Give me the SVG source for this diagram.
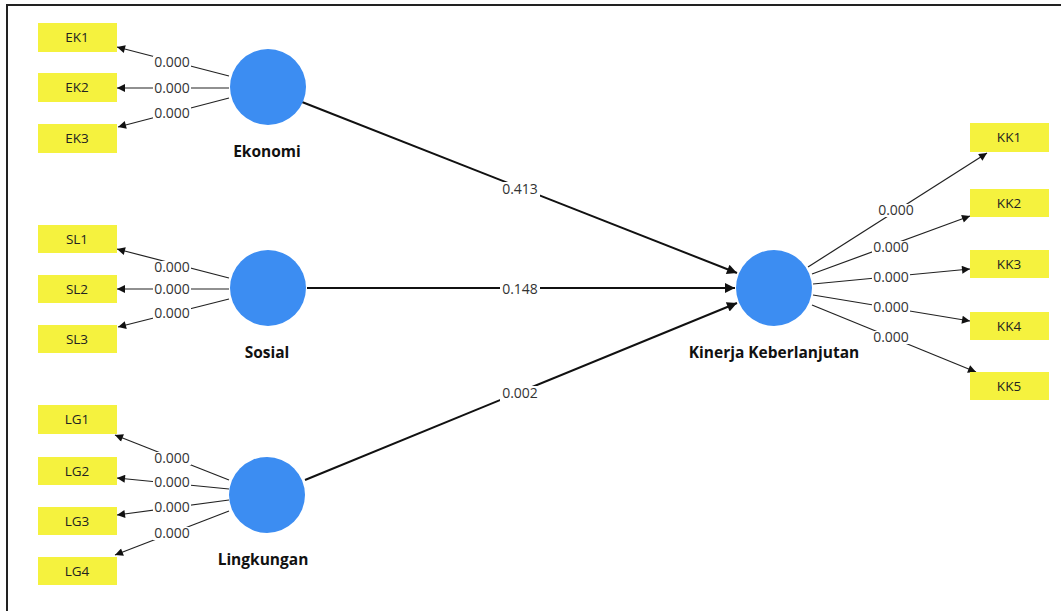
<svg xmlns="http://www.w3.org/2000/svg" width="1061" height="611" viewBox="0 0 1061 611">
<style>
.ind rect{fill:#F5F23E;}
.ind text{font-family:"Open Sans","Noto Sans",sans-serif;font-size:13.5px;fill:#222;text-anchor:middle;}
.lat circle{fill:#3C8DF2;}
.lat text{font-family:"Open Sans","Noto Sans",sans-serif;font-size:15.5px;font-weight:bold;fill:#111;text-anchor:middle;}
.ld{stroke:#222;stroke-width:1.2;fill:none;marker-end:url(#a1);}
.st{stroke:#111;stroke-width:2;fill:none;marker-end:url(#a2);}
.bg{fill:#fff;}
.lbl{font-family:"Open Sans","Noto Sans",sans-serif;font-size:14px;fill:#333;text-anchor:middle;}
</style>
<defs>
<marker id="a1" viewBox="0 0 10 10" refX="10" refY="5" markerWidth="11" markerHeight="8" markerUnits="userSpaceOnUse" orient="auto"><path d="M0,0 L10,5 L0,10 z" fill="#111"/></marker>
<marker id="a2" viewBox="0 0 10 10" refX="10" refY="5" markerWidth="13" markerHeight="10" markerUnits="userSpaceOnUse" orient="auto"><path d="M0,0 L10,5 L0,10 z" fill="#111"/></marker>
</defs>
<rect width="1061" height="611" fill="#fff"/>
<path d="M7,611 V5 H1061" stroke="#222" stroke-width="2" fill="none"/>

<g id="connectors">
<line class="ld" x1="229" y1="76" x2="117" y2="47"/>
<line class="ld" x1="229" y1="88" x2="117" y2="88"/>
<line class="ld" x1="229" y1="98" x2="118" y2="127"/>
<line class="ld" x1="229" y1="278" x2="117" y2="249"/>
<line class="ld" x1="229" y1="289" x2="117" y2="289"/>
<line class="ld" x1="229" y1="299" x2="118" y2="327"/>
<line class="ld" x1="229" y1="480" x2="115" y2="435"/>
<line class="ld" x1="229" y1="489" x2="117" y2="478"/>
<line class="ld" x1="229" y1="500" x2="117" y2="515"/>
<line class="ld" x1="229" y1="511" x2="115" y2="555"/>
<line class="ld" x1="808" y1="267" x2="987" y2="153"/>
<line class="ld" x1="812" y1="274" x2="970" y2="216"/>
<line class="ld" x1="813" y1="284" x2="970" y2="269"/>
<line class="ld" x1="813" y1="295" x2="970" y2="321"/>
<line class="ld" x1="812" y1="305" x2="976" y2="372"/>
<line class="st" x1="302" y1="102" x2="737" y2="273"/>
<line class="st" x1="307" y1="288" x2="735" y2="288"/>
<line class="st" x1="305" y1="480" x2="737" y2="303"/>
<rect class="bg" x="153" y="56" width="38" height="13"/><text class="lbl" x="172" y="67">0.000</text>
<rect class="bg" x="153" y="82" width="38" height="13"/><text class="lbl" x="172" y="93">0.000</text>
<rect class="bg" x="153" y="107" width="38" height="13"/><text class="lbl" x="172" y="118">0.000</text>
<rect class="bg" x="153" y="261" width="38" height="13"/><text class="lbl" x="172" y="272">0.000</text>
<rect class="bg" x="153" y="283" width="38" height="13"/><text class="lbl" x="172" y="294">0.000</text>
<rect class="bg" x="153" y="307" width="38" height="13"/><text class="lbl" x="172" y="318">0.000</text>
<rect class="bg" x="153" y="452" width="38" height="13"/><text class="lbl" x="172" y="463">0.000</text>
<rect class="bg" x="153" y="476" width="38" height="13"/><text class="lbl" x="172" y="487">0.000</text>
<rect class="bg" x="153" y="501" width="38" height="13"/><text class="lbl" x="172" y="512">0.000</text>
<rect class="bg" x="153" y="527" width="38" height="13"/><text class="lbl" x="172" y="538">0.000</text>
<rect class="bg" x="877" y="204" width="38" height="13"/><text class="lbl" x="896" y="215">0.000</text>
<rect class="bg" x="872" y="241" width="38" height="13"/><text class="lbl" x="891" y="252">0.000</text>
<rect class="bg" x="872" y="271" width="38" height="13"/><text class="lbl" x="891" y="282">0.000</text>
<rect class="bg" x="872" y="301" width="38" height="13"/><text class="lbl" x="891" y="312">0.000</text>
<rect class="bg" x="872" y="331" width="38" height="13"/><text class="lbl" x="891" y="342">0.000</text>
<rect class="bg" x="500" y="182" width="40" height="15"/><text class="lbl" x="520" y="194">0.413</text>
<rect class="bg" x="500" y="282" width="40" height="15"/><text class="lbl" x="520" y="294">0.148</text>
<rect class="bg" x="500" y="386" width="40" height="15"/><text class="lbl" x="520" y="398">0.002</text>
</g>

<g id="EK1" class="ind"><rect x="38" y="23" width="79" height="29"/><text x="77" y="42">EK1</text></g>
<g id="EK2" class="ind"><rect x="38" y="73" width="79" height="29"/><text x="77" y="92">EK2</text></g>
<g id="EK3" class="ind"><rect x="38" y="124" width="79" height="29"/><text x="77" y="143">EK3</text></g>
<g id="SL1" class="ind"><rect x="38" y="225" width="79" height="28"/><text x="77" y="244">SL1</text></g>
<g id="SL2" class="ind"><rect x="38" y="275" width="79" height="28"/><text x="77" y="294">SL2</text></g>
<g id="SL3" class="ind"><rect x="38" y="325" width="79" height="28"/><text x="77" y="344">SL3</text></g>
<g id="LG1" class="ind"><rect x="38" y="405" width="79" height="29"/><text x="77" y="424">LG1</text></g>
<g id="LG2" class="ind"><rect x="38" y="457" width="79" height="28"/><text x="77" y="476">LG2</text></g>
<g id="LG3" class="ind"><rect x="38" y="507" width="79" height="28"/><text x="77" y="526">LG3</text></g>
<g id="LG4" class="ind"><rect x="38" y="557" width="79" height="28"/><text x="77" y="576">LG4</text></g>
<g id="KK1" class="ind"><rect x="970" y="123" width="79" height="29"/><text x="1009" y="142">KK1</text></g>
<g id="KK2" class="ind"><rect x="970" y="189" width="79" height="28"/><text x="1009" y="208">KK2</text></g>
<g id="KK3" class="ind"><rect x="970" y="250" width="79" height="28"/><text x="1009" y="269">KK3</text></g>
<g id="KK4" class="ind"><rect x="970" y="312" width="79" height="28"/><text x="1009" y="331">KK4</text></g>
<g id="KK5" class="ind"><rect x="970" y="372" width="79" height="28"/><text x="1009" y="391">KK5</text></g>

<g id="Ekonomi" class="lat"><circle cx="268" cy="87" r="38"/><text x="267" y="157">Ekonomi</text></g>
<g id="Sosial" class="lat"><circle cx="268" cy="288" r="38"/><text x="267" y="358">Sosial</text></g>
<g id="Lingkungan" class="lat"><circle cx="267" cy="495" r="38"/><text x="263" y="565">Lingkungan</text></g>
<g id="Kinerja" class="lat"><circle cx="774" cy="288" r="38"/><text x="774" y="358">Kinerja Keberlanjutan</text></g>
</svg>
